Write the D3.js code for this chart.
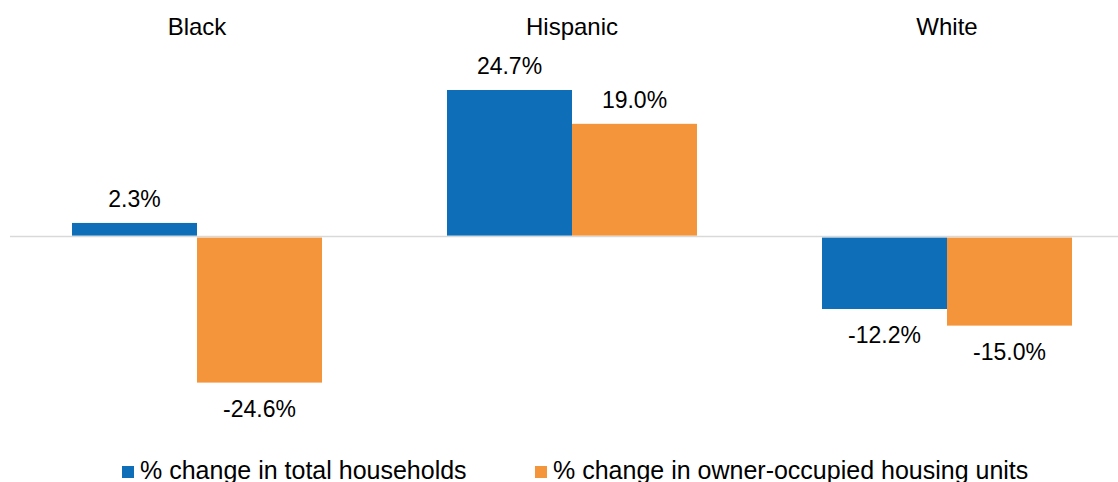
<!DOCTYPE html>
<html>
<head>
<meta charset="utf-8">
<script src="https://cdn.jsdelivr.net/npm/d3@7"></script>
<style>
  body { margin: 0; background: #fff; }
  svg { display: block; font-family: "Liberation Sans", Arial, sans-serif; }
</style>
</head>
<body>
<svg id="chart" width="1118" height="482"></svg>
<script>
// data
var groups = ["Black", "Hispanic", "White"];
var seriesNames = ["% change in total households", "% change in owner-occupied housing units"];
var households = [2.3, 24.7, -12.2];
var ownerUnits = [-24.6, 19.0, -15.0];
var colors = ["#0e6eb8", "#f5953b"];

var svg = d3.select("#chart"),
    width = +svg.attr("width"),
    height = +svg.attr("height");

// x: groups, each band holds the two series
var x0 = d3.scaleBand()
    .domain(groups)
    .range([9.5, 1134.5])
    .paddingInner(1 / 3)
    .paddingOuter(1 / 6);

var x1 = d3.scaleBand()
    .domain([0, 1])
    .range([0, x0.bandwidth()]);

var y = d3.scaleLinear()
    .domain([-24.6, 24.7])
    .range([382.6, 90]);

var rows = [];
groups.forEach(function (g, i) {
    rows.push({ group: g, s: 0, v: households[i] });
    rows.push({ group: g, s: 1, v: ownerUnits[i] });
});

// zero line
svg.append("line")
    .attr("x1", 10).attr("x2", width)
    .attr("y1", y(0)).attr("y2", y(0))
    .attr("stroke", "#d9d9d9")
    .attr("stroke-width", 1.5);

// bars
svg.selectAll("rect.bar")
    .data(rows)
    .enter().append("rect")
    .attr("class", "bar")
    .attr("x", function (d) { return x0(d.group) + x1(d.s); })
    .attr("width", x1.bandwidth())
    .attr("y", function (d) { return d.v >= 0 ? y(d.v) : y(0) + 1; })
    .attr("height", function (d) { return Math.abs(y(d.v) - y(0)) - 1; })
    .attr("fill", function (d) { return colors[d.s]; });

// value labels (plain hyphen for negatives, like the original)
svg.selectAll("text.val")
    .data(rows)
    .enter().append("text")
    .attr("class", "val")
    .attr("x", function (d) { return x0(d.group) + x1(d.s) + x1.bandwidth() / 2; })
    .attr("y", function (d) { return d.v >= 0 ? y(d.v) - 16 : y(d.v) + 34; })
    .attr("text-anchor", "middle")
    .attr("font-size", 23)
    .attr("fill", "#000")
    .text(function (d) { return d3.format(".1f")(d.v).replace("\u2212", "-") + "%"; });

// group titles
svg.selectAll("text.grp")
    .data(groups)
    .enter().append("text")
    .attr("class", "grp")
    .attr("x", function (g) { return x0(g) + x0.bandwidth() / 2; })
    .attr("y", 35)
    .attr("text-anchor", "middle")
    .attr("font-size", 24)
    .attr("fill", "#000")
    .text(function (g) { return g; });

// legend
var legendX = [122, 535];
var legend = svg.selectAll("g.legend")
    .data(seriesNames)
    .enter().append("g")
    .attr("class", "legend")
    .attr("transform", function (d, i) { return "translate(" + legendX[i] + ",466)"; });

legend.append("rect")
    .attr("width", 12).attr("height", 12)
    .attr("fill", function (d, i) { return colors[i]; });

legend.append("text")
    .attr("x", 18)
    .attr("y", 12.5)
    .attr("font-size", 25)
    .attr("fill", "#000")
    .text(function (d) { return d; });
</script>
</body>
</html>
